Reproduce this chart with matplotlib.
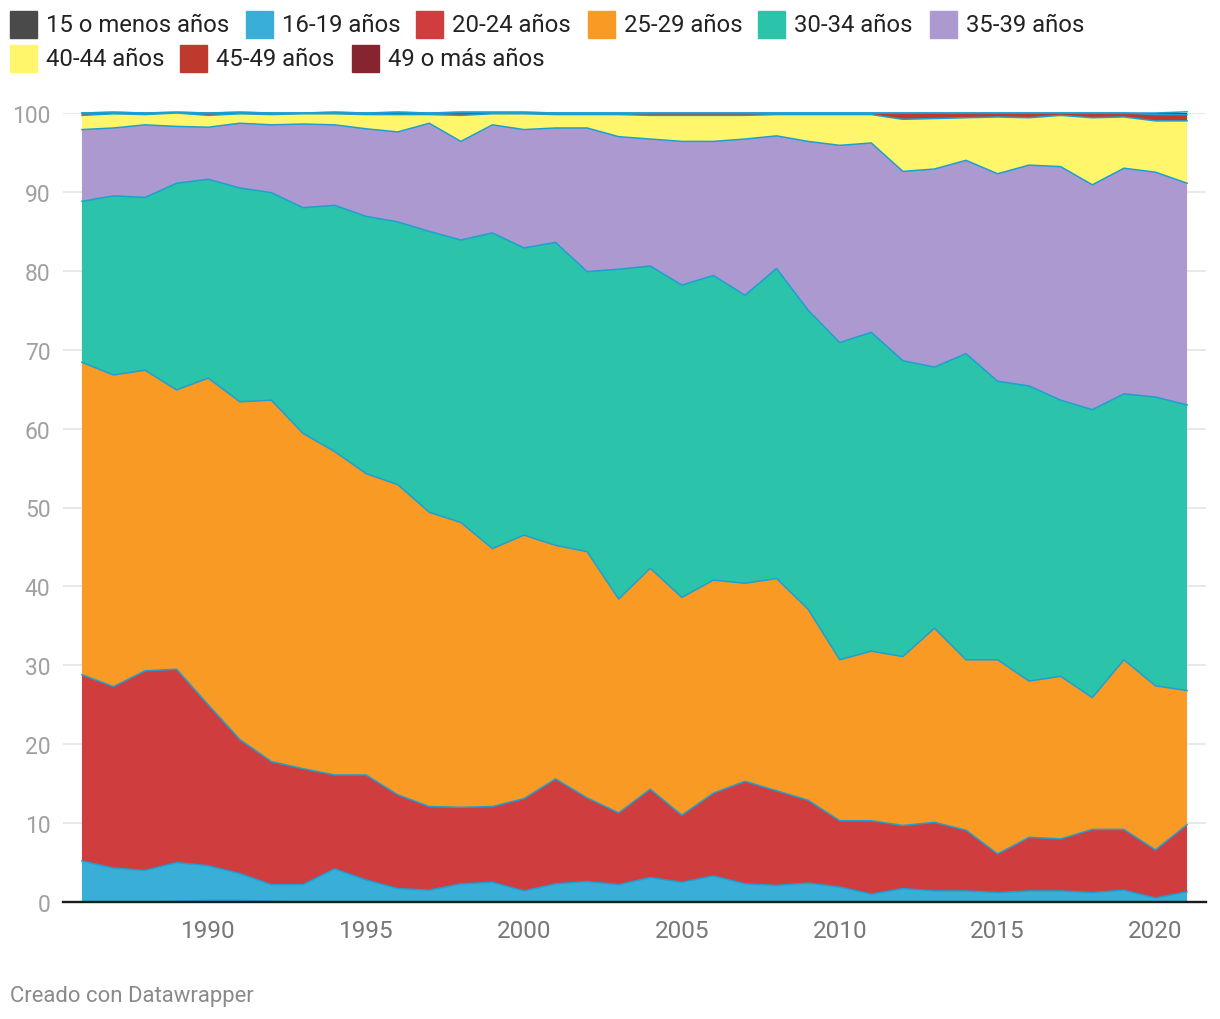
import numpy as np
import matplotlib
matplotlib.use('Agg')
import matplotlib.pyplot as plt
from matplotlib.patches import Rectangle

plt.rcParams['font.family'] = ['Roboto', 'DejaVu Sans']

years = list(range(1986, 2022))

# porcentaje de madres por grupo de edad (lecturas del grafico)
menos15 = [0, 0, 0, 0.1, 0.2, 0.2, 0.1, 0, 0, 0,
           0, 0, 0, 0, 0, 0, 0, 0, 0, 0,
           0, 0, 0, 0, 0, 0, 0, 0, 0, 0,
           0, 0, 0, 0, 0, 0]
a16_19 = [5.2, 4.3, 4.0, 4.9, 4.4, 3.4, 2.1, 2.2, 4.2, 2.8,
          1.7, 1.5, 2.3, 2.5, 1.4, 2.3, 2.6, 2.2, 3.1, 2.5,
          3.3, 2.3, 2.1, 2.4, 1.9, 1.0, 1.7, 1.4, 1.4, 1.2,
          1.4, 1.4, 1.2, 1.5, 0.5, 1.3]
a20_24 = [23.6, 23.0, 25.3, 24.5, 20.4, 17.0, 15.6, 14.7, 11.9, 13.3,
          11.9, 10.6, 9.7, 9.6, 11.7, 13.3, 10.6, 9.1, 11.2, 8.5,
          10.5, 13.0, 12.0, 10.5, 8.4, 9.3, 8.0, 8.7, 7.7, 4.9,
          6.8, 6.6, 8.0, 7.7, 6.1, 8.5]
a25_29 = [39.6, 39.5, 38.1, 35.4, 41.4, 42.8, 45.8, 42.5, 41.0, 38.2,
          39.3, 37.3, 36.1, 32.7, 33.4, 29.6, 31.2, 27.1, 28.0, 27.6,
          27.0, 25.1, 26.9, 24.2, 20.4, 21.5, 21.4, 24.6, 21.6, 24.6,
          19.8, 20.6, 16.7, 21.5, 20.8, 17.0]
a30_34 = [20.4, 22.7, 21.9, 26.2, 25.2, 27.1, 26.3, 28.6, 31.2, 32.6,
          33.3, 35.6, 35.8, 40.0, 36.4, 38.4, 35.5, 41.8, 38.3, 39.6,
          38.6, 36.5, 39.3, 37.9, 40.2, 40.4, 37.5, 33.1, 38.8, 35.3,
          37.4, 35.0, 36.5, 33.7, 36.6, 36.2]
a35_39 = [9.1, 8.6, 9.2, 7.2, 6.6, 8.2, 8.6, 10.6, 10.2, 11.1,
          11.4, 13.7, 12.5, 13.7, 15.0, 14.5, 18.2, 16.8, 16.1, 18.2,
          17.0, 19.8, 16.8, 21.4, 25.0, 24.0, 24.0, 25.1, 24.5, 26.3,
          28.0, 29.6, 28.5, 28.6, 28.5, 28.1]
a40_44 = [1.8, 1.8, 1.3, 1.7, 1.5, 1.2, 1.3, 1.3, 1.4, 1.8,
          2.2, 1.1, 3.3, 1.4, 2.0, 1.7, 1.7, 2.8, 3.0, 3.3,
          3.3, 3.0, 2.7, 3.4, 3.9, 3.6, 6.6, 6.4, 5.4, 7.2,
          6.0, 6.5, 8.5, 6.5, 6.5, 7.9]
a45_49 = [0.3, 0.2, 0.2, 0.1, 0.3, 0.2, 0.2, 0.1, 0.2, 0.2,
          0.3, 0.2, 0.4, 0.2, 0.2, 0.2, 0.2, 0.2, 0.3, 0.3,
          0.3, 0.3, 0.2, 0.2, 0.2, 0.2, 0.8, 0.7, 0.6, 0.5,
          0.6, 0.3, 0.6, 0.5, 0.8, 0.8]
a49_mas = [0, 0, 0, 0, 0, 0, 0, 0, 0, 0,
           0, 0, 0, 0, 0, 0, 0, 0, 0, 0,
           0, 0, 0, 0, 0, 0, 0, 0, 0, 0,
           0, 0, 0, 0, 0.2, 0.35]

labels = ['15 o menos años', '16-19 años', '20-24 años', '25-29 años',
          '30-34 años', '35-39 años', '40-44 años', '45-49 años',
          '49 o más años']
colors = ['#4a4a4a', '#39aed6', '#cf3d3e', '#f89a24', '#2bc4aa',
          '#ab99cf', '#fff66b', '#be3a2c', '#862430']
series = [menos15, a16_19, a20_24, a25_29, a30_34, a35_39, a40_44, a45_49, a49_mas]

W, H = 1220, 1020
fig = plt.figure(figsize=(W / 100, H / 100), dpi=100)
ax = fig.add_axes([63 / W, 1 - 903 / H, (1206 - 63) / W, (903 - 114) / H])

ax.stackplot(years, *series, colors=colors, lw=0, zorder=2)

# bordes azules entre areas
tops = np.cumsum(np.array(series), axis=0)
for row in tops:
    ax.plot(years, row, color='#1e9fd2', lw=1.1, zorder=3, clip_on=False)

ax.set_xlim(1985.4, 2021.6)
ax.set_ylim(0, 100)
ax.set_yticks(range(0, 101, 10))
ax.set_xticks(range(1990, 2021, 5))
ax.yaxis.grid(True, color='#e2e2e2', lw=1.1)
ax.set_axisbelow(True)
ax.tick_params(axis='y', length=0, pad=9, labelsize=16.5, labelcolor='#a0a0a0')
ax.tick_params(axis='x', length=0, pad=12.5, labelsize=17.5, labelcolor='#777777')
for s in ax.spines.values():
    s.set_visible(False)
ax.axhline(0, color='#1a1a1a', lw=1.7, zorder=5, clip_on=False)

# leyenda manual en dos filas
legend_pos = [(10, 12), (246, 12), (416, 12), (588, 12), (758, 12), (930, 12),
              (10, 46), (180, 46), (352, 46)]
for (lx, ly), lab, col in zip(legend_pos, labels, colors):
    fig.patches.append(Rectangle((lx / W, 1 - (ly + 27) / H), 27 / W, 27 / H,
                                 transform=fig.transFigure, color=col))
    fig.text((lx + 36) / W, 1 - (ly + 14) / H, lab, fontsize=17.2, color='#222222',
             va='center', ha='left')

fig.text(10 / W, 1 - 997 / H, 'Creado con Datawrapper', fontsize=15.9,
         color='#8a8a8a', va='center', ha='left')

fig.savefig('out.png', dpi=100)
